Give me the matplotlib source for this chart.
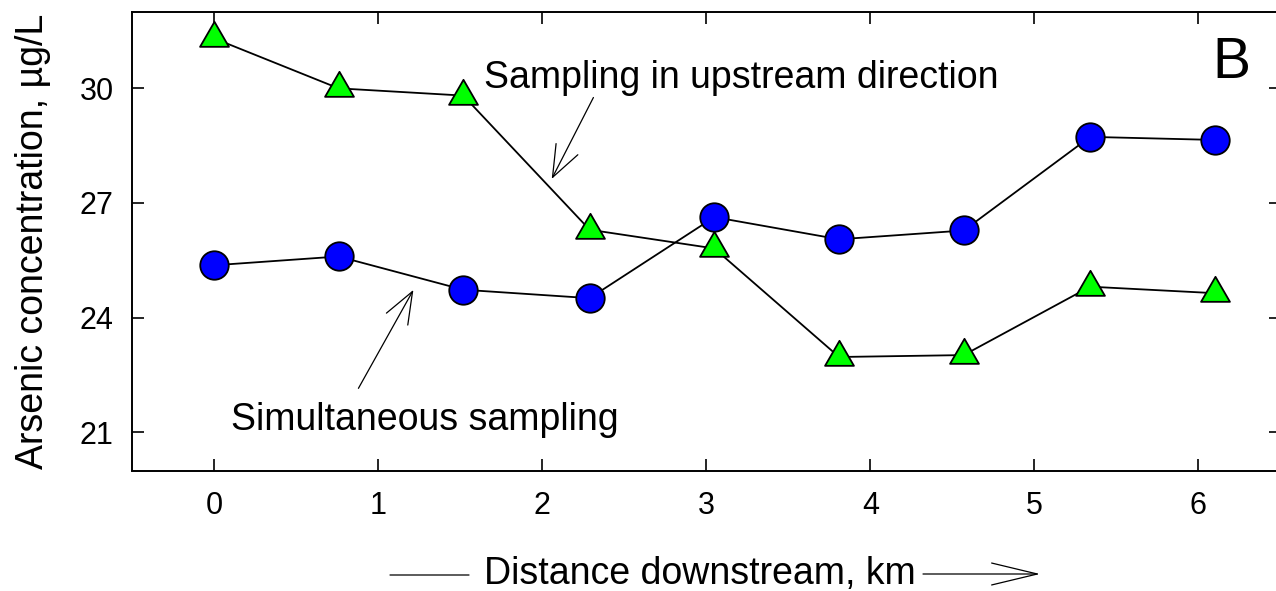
import matplotlib
matplotlib.use("Agg")
import matplotlib.pyplot as plt
from matplotlib.path import Path

plt.rcParams['font.family'] = ['Liberation Sans', 'DejaVu Sans']

# Sampling stations along the river (km downstream)
distance_km = [0.0, 0.76, 1.52, 2.29, 3.05, 3.81, 4.57, 5.34, 6.10]
# Arsenic concentration, ug/L
simultaneous = [25.37, 25.60, 24.73, 24.51, 26.63, 26.05, 26.28, 28.73, 28.65]
upstream = [31.31, 30.00, 29.81, 26.30, 25.81, 22.97, 23.02, 24.81, 24.64]

x_ticks = [0, 1, 2, 3, 4, 5, 6]
y_ticks = [21, 24, 27, 30]

W, H = 1276, 591
fig = plt.figure(figsize=(W / 100, H / 100), dpi=100)
ax = fig.add_axes([131.8 / W, (H - 470.5) / H, 1148.7 / W, 458.6 / H])

# equilateral triangle centred on its centroid
tri = Path([(-1.0, -0.577), (1.0, -0.577), (0.0, 1.155), (-1.0, -0.577)],
           [Path.MOVETO, Path.LINETO, Path.LINETO, Path.CLOSEPOLY])

ax.plot(distance_km, upstream, color='black', lw=1.3, marker=tri,
        markersize=24, markerfacecolor='#00ff00', markeredgecolor='black',
        markeredgewidth=1.3, zorder=3)
ax.plot(distance_km, simultaneous, color='black', lw=1.3, marker='o',
        markersize=20.5, markerfacecolor='#0000ff', markeredgecolor='black',
        markeredgewidth=1.3, zorder=3)

ax.set_xlim(-0.5, 6.5)
ax.set_ylim(20, 32)
ax.set_xticks(x_ticks)
ax.set_yticks(y_ticks)
ax.tick_params(direction='in', length=8.6, width=1.2, labelsize=22,
               top=True, right=True)
ax.tick_params(axis='x', pad=15)
ax.tick_params(axis='y', pad=13)
for s in ax.spines.values():
    s.set_linewidth(1.4)

ax.set_ylabel('Arsenic concentration, \u00b5g/L', fontsize=27)
ax.yaxis.label.set(va='baseline', rotation_mode='anchor')
ax.yaxis.set_label_coords(-0.0773, 0.5)

ax.set_xlabel('Distance downstream, km', fontsize=27)
ax.xaxis.label.set(va='baseline')
ax.xaxis.set_label_coords(0.4945, -0.2475)

# decorative lines around the x-axis title
ax.annotate('', xy=(469 / W, (H - 575) / H), xytext=(390 / W, (H - 575) / H),
            xycoords='figure fraction', textcoords='figure fraction',
            arrowprops=dict(arrowstyle='-', lw=0.9, color='black',
                            shrinkA=0, shrinkB=0))
ax.annotate('', xy=(1040 / W, (H - 574) / H), xytext=(923 / W, (H - 574) / H),
            xycoords='figure fraction', textcoords='figure fraction',
            arrowprops=dict(arrowstyle='->,head_length=32.9,head_width=7.9',
                            mutation_scale=1, lw=0.9, color='black',
                            shrinkA=0, shrinkB=0))

# series annotations
ax.text(1.649, 30.02, 'Sampling in upstream direction', fontsize=27,
        ha='left', va='baseline')
ax.annotate('', xy=(2.059, 27.63), xytext=(2.313, 29.76),
            arrowprops=dict(arrowstyle='->,head_length=22.8,head_width=8.8',
                            mutation_scale=1, lw=0.9, color='black',
                            shrinkA=0, shrinkB=0))

ax.text(0.102, 21.06, 'Simultaneous sampling', fontsize=27,
        ha='left', va='baseline')
ax.annotate('', xy=(1.216, 24.725), xytext=(0.881, 22.15),
            arrowprops=dict(arrowstyle='->,head_length=22.8,head_width=8.8',
                            mutation_scale=1, lw=0.9, color='black',
                            shrinkA=0, shrinkB=0))

ax.text(6.082, 30.26, 'B', fontsize=41, ha='left', va='baseline')

fig.savefig('out.png', dpi=100)
